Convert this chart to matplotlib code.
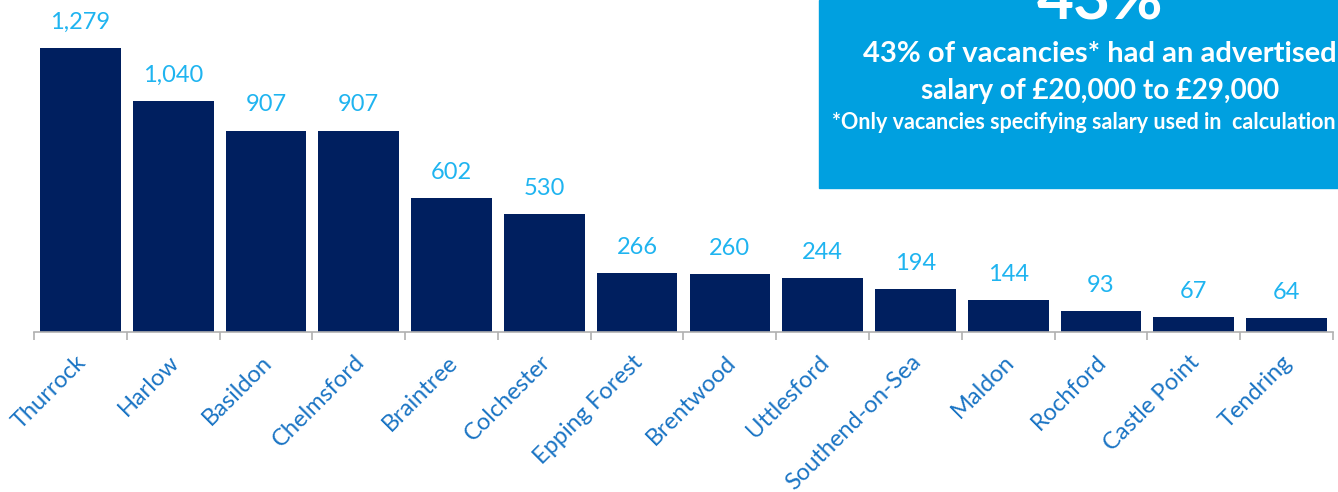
import matplotlib
matplotlib.use('Agg')
import matplotlib.pyplot as plt
from matplotlib.patches import Rectangle
from matplotlib.ticker import FixedLocator
from matplotlib.transforms import ScaledTranslation

districts = ['Thurrock', 'Harlow', 'Basildon', 'Chelmsford', 'Braintree', 'Colchester',
             'Epping Forest', 'Brentwood', 'Uttlesford', 'Southend-on-Sea', 'Maldon',
             'Rochford', 'Castle Point', 'Tendring']
vacancies = [1279, 1040, 907, 907, 602, 530, 266, 260, 244, 194, 144, 93, 67, 64]

headline = '43%'
callout_lines = ['43% of vacancies* had an advertised', 'salary of £20,000 to £29,000']
footnote = '*Only vacancies specifying salary used in  calculation'

bar_colour = '#001f5f'
value_colour = '#1fb4f0'
label_colour = '#1a74c4'
box_colour = '#00a0e0'

plt.rcParams['font.family'] = ['Lato', 'DejaVu Sans']

fig = plt.figure(figsize=(13.38, 4.92), dpi=100)
ax = fig.add_axes([34 / 1338, 160 / 492, 1299 / 1338, 332 / 492])

x = range(len(districts))
bars = ax.bar(x, vacancies, width=0.87, color=bar_colour, zorder=2)
for b, v in zip(bars, vacancies):
    ax.annotate('{:,}'.format(v), (b.get_x() + b.get_width() / 2, v),
                xytext=(0, 11), textcoords='offset points', ha='center', va='bottom',
                fontsize=17, color=value_colour)

ax.set_xlim(-0.5, len(districts) - 0.5)
ax.set_ylim(0, 1495)
ax.set_yticks([])
for side in ['left', 'right', 'top']:
    ax.spines[side].set_visible(False)
ax.spines['bottom'].set_color('#b0b0b0')
ax.spines['bottom'].set_linewidth(1.2)

# category labels at the bar centres, tick marks on the boundaries
ax.set_xticks(list(x))
ax.set_xticklabels(districts, rotation=45, ha='right', rotation_mode='anchor',
                   fontsize=17, color=label_colour)
ax.tick_params(axis='x', which='major', length=0, pad=14)
shift = ScaledTranslation(-5 / 100, 0, fig.dpi_scale_trans)
for lbl in ax.get_xticklabels():
    lbl.set_transform(lbl.get_transform() + shift)
ax.xaxis.set_minor_locator(FixedLocator([i - 0.5 for i in range(len(districts) + 1)]))
ax.tick_params(axis='x', which='minor', length=6, width=1.2, color='#b0b0b0', direction='out')

# callout box in the top right corner
fig.patches.append(Rectangle((819 / 1338, 304 / 492), 519 / 1338, 188 / 492,
                             transform=fig.transFigure, color=box_colour, zorder=0))
fig.text(1100 / 1338, 1 - 20 / 492, headline, ha='center', va='baseline',
         fontsize=46, fontweight='bold', color='white')
fig.text(1100 / 1338, 1 - 62 / 492, callout_lines[0], ha='center', va='baseline',
         fontsize=21, fontweight='bold', color='white')
fig.text(1100 / 1338, 1 - 99 / 492, callout_lines[1], ha='center', va='baseline',
         fontsize=20, fontweight='bold', color='white')
fig.text(832 / 1338, 1 - 129 / 492, footnote, ha='left', va='baseline',
         fontsize=15.5, fontweight='bold', color='white')

fig.savefig('out.png', dpi=100)
